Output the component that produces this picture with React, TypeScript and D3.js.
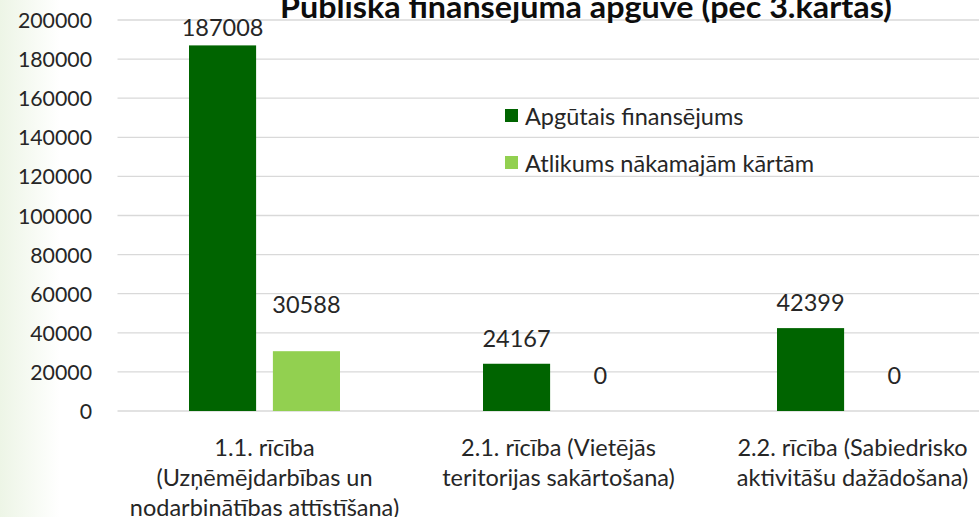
import React from "react";
import * as d3 from "d3";

const categories: string[][] = [
  ["1.1. rīcība", "(Uzņēmējdarbības un", "nodarbinātības attīstīšana)"],
  ["2.1. rīcība (Vietējās", "teritorijas sakārtošana)"],
  ["2.2. rīcība (Sabiedrisko", "aktivitāšu dažādošana)"],
];
const seriesNames = ["Apgūtais finansējums", "Atlikums nākamajām kārtām"];
const absorbed = [187008, 24167, 42399];
const remaining = [30588, 0, 0];
const yTicks = [0, 20000, 40000, 60000, 80000, 100000, 120000, 140000, 160000, 180000, 200000];
const title = "Publiskā finansējuma apgūve (pēc 3.kārtas)";
// manual label lift above bar top (px), as in the source chart
const labelLift = [
  [18, 47],
  [26, 36],
  [26, 36],
];

const W = 979;
const H = 517;
const colors = ["#006400", "#92d050"];
const FONT = "Lato, 'Open Sans', sans-serif";
const TXT = "#262626";

export default function App() {
  const plotLeft = 117.5;
  const plotRight = 999.5;
  const y = d3.scaleLinear().domain([0, 200000]).range([411, 20]);
  const x0 = d3
    .scaleBand<number>()
    .domain(d3.range(categories.length))
    .range([plotLeft, plotRight])
    .padding(0);
  const x1 = d3
    .scaleBand<number>()
    .domain([0, 1])
    .range([71.5, 222.5])
    .paddingInner(0.2)
    .paddingOuter(0);
  const series = [absorbed, remaining];

  return (
    <svg
      width={W}
      height={H}
      style={{ position: "absolute", left: 0, top: 0, fontFamily: FONT }}
    >
      <defs>
        <linearGradient id="bg" x1="0" x2="1" y1="0" y2="0">
          <stop offset="0" stopColor="#edf5e6" />
          <stop offset="1" stopColor="#ffffff" />
        </linearGradient>
      </defs>
      <rect x={0} y={0} width={W} height={H} fill="#ffffff" />
      <rect x={0} y={0} width={60} height={H} fill="url(#bg)" />

      {yTicks.map((t) => (
        <g key={t}>
          <line
            x1={plotLeft}
            x2={W}
            y1={y(t)}
            y2={y(t)}
            stroke="#d9d9d9"
            strokeWidth={1.3}
          />
          <text
            x={92}
            y={y(t)}
            textAnchor="end"
            dominantBaseline="central"
            fontSize={21.3}
            fill={TXT}
          >
            {t}
          </text>
        </g>
      ))}

      {categories.map((_, ci) =>
        series.map((s, si) => {
          const v = s[ci];
          const bx = (x0(ci) as number) + (x1(si) as number);
          const bw = x1.bandwidth();
          return (
            <g key={`${ci}-${si}`}>
              {v > 0 && (
                <rect
                  x={bx}
                  y={y(v)}
                  width={bw}
                  height={y(0) - y(v)}
                  fill={colors[si]}
                />
              )}
              <text
                x={bx + bw / 2}
                y={y(v) - labelLift[ci][si]}
                textAnchor="middle"
                dominantBaseline="central"
                fontSize={23.5}
                fill={TXT}
              >
                {v}
              </text>
            </g>
          );
        })
      )}

      {categories.map((lines, ci) => {
        const cx = (x0(ci) as number) + x0.bandwidth() / 2;
        return (
          <text
            key={ci}
            x={cx}
            textAnchor="middle"
            fontSize={23.5}
            fill={TXT}
          >
            {lines.map((l, li) => (
              <tspan key={li} x={cx} y={447 + li * 30} dominantBaseline="central">
                {l}
              </tspan>
            ))}
          </text>
        );
      })}

      {seriesNames.map((n, i) => (
        <g key={n}>
          <rect x={505} y={109 + i * 47} width={13} height={13} fill={colors[i]} />
          <text
            x={525}
            y={115.5 + i * 47}
            dominantBaseline="central"
            fontSize={23.5}
            fill={TXT}
          >
            {n}
          </text>
        </g>
      ))}

      <text
        x={586}
        y={18}
        textAnchor="middle"
        fontSize={30}
        fontWeight="bold"
        fill="#0d0d0d"
        textLength={612}
        lengthAdjust="spacingAndGlyphs"
      >
        {title}
      </text>
    </svg>
  );
}
